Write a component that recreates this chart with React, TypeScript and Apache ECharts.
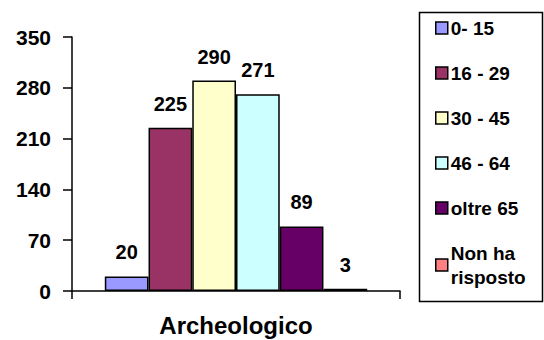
import React, { useEffect, useRef } from "react";
import * as echarts from "echarts";

const categories = ["Archeologico"];
const seriesNames = ["0- 15", "16 - 29", "30 - 45", "46 - 64", "oltre 65", "Non ha\nrisposto"];
const seriesValues = [20, 225, 290, 271, 89, 3];
const seriesColors = ["#9999FF", "#993366", "#FFFFCC", "#CCFFFF", "#660066", "#FF8080"];
const yTicks = { min: 0, max: 350, interval: 70 };

export default function App() {
  const ref = useRef<HTMLDivElement>(null);
  useEffect(() => {
    const chart = echarts.init(ref.current!, null, { renderer: "svg" });
    const font = "'Liberation Sans', Arial, sans-serif";
    chart.setOption({
      animation: false,
      backgroundColor: "#ffffff",
      grid: { left: 72, right: 144, top: 37, bottom: 49 },
      xAxis: {
        type: "category",
        data: categories,
        axisLine: { lineStyle: { color: "#000", width: 1.5 } },
        axisTick: { show: true, length: 8, lineStyle: { color: "#000", width: 1.5 } },
        axisLabel: { color: "#000", fontFamily: font, fontWeight: "bold", fontSize: 24, margin: 22 },
      },
      yAxis: {
        type: "value",
        min: yTicks.min,
        max: yTicks.max,
        interval: yTicks.interval,
        splitLine: { show: false },
        axisLine: { show: true, lineStyle: { color: "#000", width: 1.5 } },
        axisTick: { show: true, length: 9, lineStyle: { color: "#000", width: 1.5 } },
        axisLabel: { color: "#000", fontFamily: font, fontWeight: "bold", fontSize: 21, margin: 21 },
      },
      legend: {
        orient: "vertical",
        left: 435,
        top: 16,
        itemWidth: 12,
        itemHeight: 12,
        itemGap: 21,
        icon: "rect",
        padding: 0,
        itemStyle: { borderColor: "#000", borderWidth: 1.5 },
        textStyle: { color: "#000", fontFamily: font, fontWeight: "bold", fontSize: 19, lineHeight: 24, padding: [0, 0, 0, -2] },
        data: seriesNames,
      },
      graphic: [
        {
          type: "rect",
          shape: { x: 419.5, y: 12.5, width: 123, height: 289 },
          style: { fill: "none", stroke: "#000", lineWidth: 1.5 },
        },
      ],
      series: seriesNames.map((name, i) => ({
        name,
        type: "bar",
        data: [seriesValues[i]],
        barGap: "0%",
        barCategoryGap: "20%",
        itemStyle: { color: seriesColors[i], borderColor: "#000", borderWidth: 1.5 },
        label: {
          show: true,
          position: "top",
          distance: 14,
          color: "#000",
          fontFamily: font,
          fontWeight: "bold",
          fontSize: 20,
        },
      })),
    });
    return () => chart.dispose();
  }, []);
  return <div ref={ref} style={{ width: 544, height: 340, position: "absolute", left: 0, top: 0 }} />;
}
